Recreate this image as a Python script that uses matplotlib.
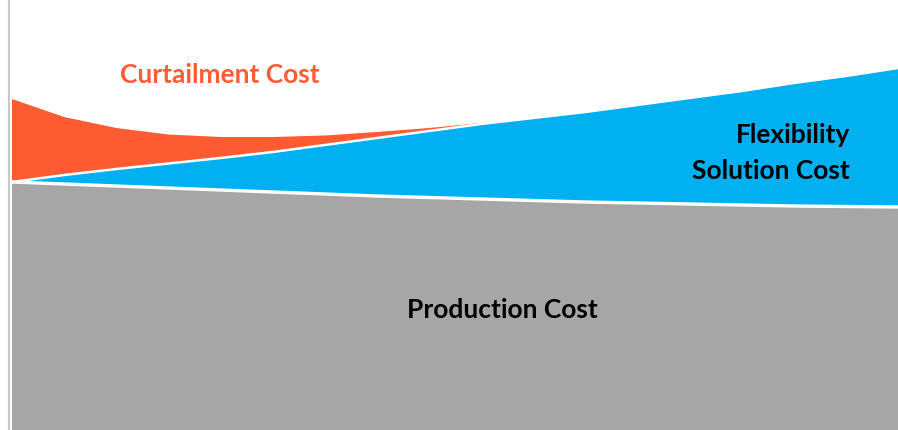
import matplotlib
matplotlib.use("Agg")
import matplotlib.pyplot as plt
import numpy as np

# x positions (periods)
periods = list(range(18))
production = [248, 246, 244, 242, 240, 238, 236, 234, 232.5, 231, 229.5, 228, 227, 226, 225, 224, 223.5, 223]
flexibility = [0, 9, 17, 24.5, 32, 40, 49, 58, 66.5, 75, 82.5, 90, 98, 106, 114, 123, 130.5, 139]
curtailment = [83, 58, 41, 29, 21, 15, 9.5, 6, 3, 1, 0, 0, 0, 0, 0, 0, 0, 0]

labels = ["Curtailment Cost", "Flexibility\nSolution Cost", "Production Cost"]
colors = {"prod": "#A6A6A6", "flex": "#00B0F0", "curt": "#FF5B33"}

x = np.array(periods, dtype=float)
p = np.array(production)
f = np.array(flexibility)
c = np.array(curtailment)

fig = plt.figure(figsize=(8.98, 4.31), dpi=100)
ax = fig.add_axes([12/898, 0, 886/898, 1])
ax.set_xlim(x[0], x[-1])
ax.set_ylim(0, 431)

ax.fill_between(x, 0, p, facecolor=colors["prod"], edgecolor="none", zorder=1)
ax.fill_between(x, p, p + f, facecolor=colors["flex"], edgecolor="none", zorder=2)
ax.fill_between(x, p + f, p + f + c, facecolor=colors["curt"], edgecolor="none", zorder=3)
ax.plot(x, p, color="white", lw=2.4, zorder=4, solid_capstyle="butt")
ax.plot(x, p + f, color="white", lw=1.8, zorder=4, solid_capstyle="butt")

for s in ["top", "right", "bottom"]:
    ax.spines[s].set_visible(False)
ax.spines["left"].set_color("#C8C8C8")
ax.spines["left"].set_linewidth(1.5)
ax.spines["left"].set_position(("outward", 2))
ax.set_xticks([])
ax.set_yticks([])

fam = ["Lato", "DejaVu Sans"]

def px(xp, yp):
    return ax.transData.inverted().transform(fig.transFigure.transform((xp / 898, 1 - yp / 431)))

fs = 19
tx, ty = px(220, 75)
ax.text(tx, ty, labels[0], color="#FF5B35", fontsize=fs, fontweight="bold",
        family=fam, ha="center", va="center", zorder=5)
tx, ty = px(850, 153)
ax.text(tx, ty, labels[1], color="black", fontsize=fs, fontweight="bold",
        family=fam, ha="right", va="center", linespacing=1.62, zorder=5)
tx, ty = px(502, 310)
ax.text(tx, ty, labels[2], color="black", fontsize=fs, fontweight="bold",
        family=fam, ha="center", va="center", zorder=5)

fig.savefig("out.png", dpi=100)
